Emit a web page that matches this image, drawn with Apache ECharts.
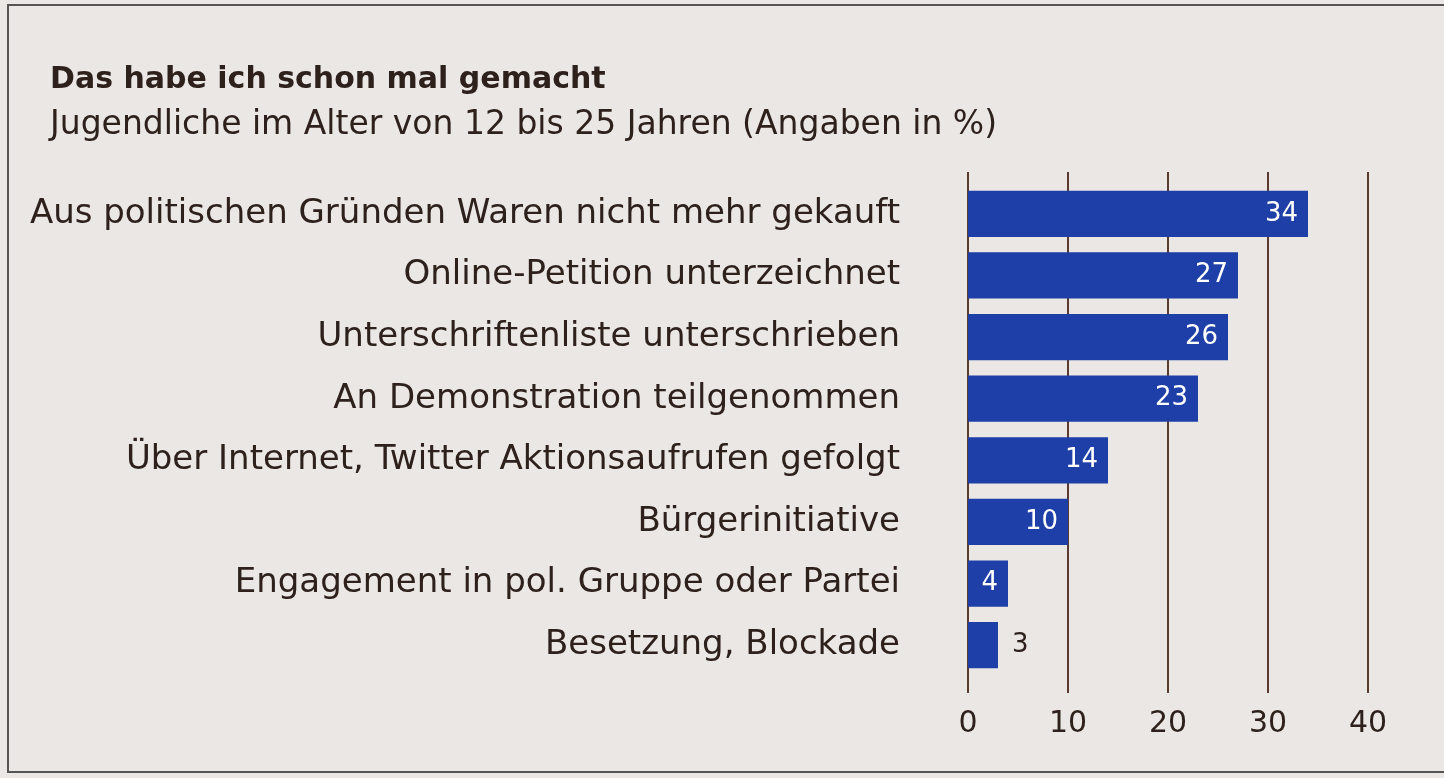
<!DOCTYPE html>
<html><head><meta charset="utf-8">
<script src="https://cdn.jsdelivr.net/npm/echarts@6/dist/echarts.min.js"></script>
<style>html,body{margin:0;padding:0;background:#ebe7e4;}#c{width:1444px;height:778px;}</style>
</head><body><div id="c"></div>
<script>
const categories = ["Aus politischen Gründen Waren nicht mehr gekauft","Online-Petition unterzeichnet","Unterschriftenliste unterschrieben","An Demonstration teilgenommen","Über Internet, Twitter Aktionsaufrufen gefolgt","Bürgerinitiative","Engagement in pol. Gruppe oder Partei","Besetzung, Blockade"];
const values = [34,27,26,23,14,10,4,3];
const xTicks = [0,10,20,30,40];
const title = "Das habe ich schon mal gemacht";
const subtitle = "Jugendliche im Alter von 12 bis 25 Jahren (Angaben in %)";

const font = "DejaVu Sans";
const chart = echarts.init(document.getElementById('c'));
chart.setOption({
  backgroundColor: '#ebe7e4',
  textStyle:{fontFamily:font},
  title:[
    {text:title,left:45,top:60,textStyle:{fontFamily:font,fontSize:30,fontWeight:'bold',color:'#2e211c'}},
    {text:subtitle,left:45,top:104,textStyle:{fontFamily:font,fontSize:33,fontWeight:'normal',color:'#2e211c'}}
  ],
  graphic:[{type:'rect',shape:{x:8,y:5,width:1450,height:767},style:{fill:'none',stroke:'#555',lineWidth:2},silent:true}],
  grid:[
    {left:968,right:1444-1368,top:172,bottom:778-693},
    {left:968,right:1444-1368,top:183,bottom:778-676}
  ],
  xAxis:[
    {gridIndex:0,type:'value',min:0,max:40,interval:10,
     axisLine:{show:false},axisTick:{show:false},
     axisLabel:{fontSize:30,color:'#2e211c',margin:16,formatter:v=>xTicks.includes(v)?String(v):''},
     splitLine:{show:true,lineStyle:{color:'#5b3b30',width:2}}},
    {gridIndex:1,type:'value',min:0,max:40,interval:10,show:false,splitLine:{show:false}}
  ],
  yAxis:[
    {gridIndex:0,type:'category',data:categories,inverse:true,show:false},
    {gridIndex:1,type:'category',data:categories,inverse:true,
     axisLine:{show:false},axisTick:{show:false},
     axisLabel:{fontSize:34,color:'#2e211c',margin:68}}
  ],
  series:[{
    type:'bar',xAxisIndex:1,yAxisIndex:1,data:values.map(v=>({value:v,label:v<4?{position:'right',color:'#2e211c',distance:14}:{}})),
    barCategoryGap:'25%',
    itemStyle:{color:'#1e3ea8'},
    label:{show:true,position:'insideRight',color:'#ffffff',fontSize:26,distance:10},
    z:3
  }]
});
</script></body></html>
